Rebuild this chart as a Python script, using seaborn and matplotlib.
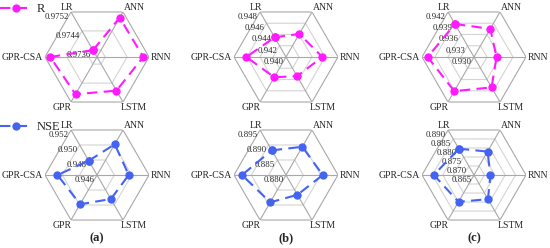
import numpy as np
import pandas as pd
import matplotlib
matplotlib.use('Agg')
import matplotlib.pyplot as plt
from matplotlib.transforms import offset_copy
import seaborn as sns

sns.set_style('white')
plt.rcParams['font.family'] = ['Liberation Serif', 'DejaVu Serif']

# axis order and angles (degrees)
models = ['LR', 'ANN', 'RNN', 'LSTM', 'GPR', 'GPR-CSA']
angles_deg = [120, 60, 0, 300, 240, 180]

# R values per panel
r_a = [0.97359, 0.97496, 0.97499, 0.97472, 0.97487, 0.97501]
r_b = [0.9435, 0.9441, 0.9456, 0.9434, 0.9436, 0.9461]
r_c = [0.9388, 0.9375, 0.9352, 0.9381, 0.9391, 0.9407]

# NSE values per panel
nse_a = [0.9479, 0.9501, 0.94966, 0.9492, 0.9499, 0.95056]
nse_b = [0.8882, 0.8894, 0.8906, 0.8866, 0.8891, 0.8927]
nse_c = [0.8796, 0.8780, 0.8729, 0.8784, 0.8799, 0.8843]

# radial ranges and tick labels
lim_r_a = (0.9733, 0.9752)
ticks_r_a = [0.9736, 0.9744, 0.9752]
lim_r_b = (0.940, 0.948)
ticks_r_b = [0.940, 0.942, 0.944, 0.946, 0.948]
lim_r_c = (0.930, 0.942)
ticks_r_c = [0.930, 0.933, 0.936, 0.939, 0.942]
lim_n_a = (0.946, 0.952)
ticks_n_a = [0.946, 0.948, 0.950, 0.952]
lim_n_b = (0.880, 0.895)
ticks_n_b = [0.880, 0.885, 0.890, 0.895]
lim_n_c = (0.865, 0.890)
ticks_n_c = [0.865, 0.870, 0.875, 0.880, 0.885, 0.890]

magenta = '#ff1aff'
blue = '#4563f2'

W, H = 550, 248
fig = plt.figure(figsize=(5.5, 2.48), dpi=100)

theta = np.deg2rad(angles_deg)
theta_closed = np.append(theta, theta[0])

# label placement relative to outer vertex: (ha, va, dx, dy) in px
label_pos = {
    'LR': ('right', 'bottom', 2, 0),
    'ANN': ('left', 'bottom', 1, 0),
    'RNN': ('left', 'center', 2, 0),
    'LSTM': ('left', 'top', -2, -1),
    'GPR': ('right', 'top', 1, -1),
    'GPR-CSA': ('right', 'center', -2, 0),
}


def radar(cx, cy, values, lim, ticks, fmt, color):
    R = 52
    ax = fig.add_axes([(cx - R) / W, (H - cy - R) / H, 2 * R / W, 2 * R / H],
                      projection='polar')
    ax.set_ylim(*lim)
    ax.grid(False)
    ax.spines['polar'].set_visible(False)
    ax.set_xticks([])
    ax.set_yticks([])
    # hexagon rings
    for t in ticks[:-1]:
        ax.plot(theta_closed, [t] * 7, color='#d4d4d4', lw=0.8, zorder=1)
    ax.plot(theta_closed, [lim[1]] * 7, color='#a8a8a8', lw=0.8, zorder=1)
    # spokes
    for th in theta:
        ax.plot([th, th], [lim[0], lim[1]], color='#a8a8a8', lw=0.8, zorder=1)
    # radial labels along LR spoke
    tr = offset_copy(ax.transData, fig=fig, x=-2, y=-1, units='dots')
    for t in ticks:
        ax.text(np.deg2rad(120), t, fmt.format(t), transform=tr,
                ha='right', va='top', fontsize=6.3, zorder=2)
    # axis names
    for name, th in zip(models, theta):
        ha, va, dx, dy = label_pos[name]
        trn = offset_copy(ax.transData, fig=fig, x=dx, y=dy, units='dots')
        ax.text(th, lim[1], name, transform=trn, ha=ha, va=va, fontsize=7)
    df = pd.DataFrame({'theta': theta_closed,
                       'value': np.append(values, values[0])})
    sns.lineplot(data=df, x='theta', y='value', ax=ax, sort=False,
                 estimator=None, color=color, lw=1.5, marker='o',
                 markersize=6, markeredgewidth=0, linestyle=(0, (5, 3)),
                 zorder=3)
    ax.set_xlabel('')
    ax.set_ylabel('')
    ax.set_ylim(*lim)
    return ax


cxs = [97, 286, 474]
cy_top, cy_bot = 57, 175

radar(cxs[0], cy_top, r_a, lim_r_a, ticks_r_a, '{:.4f}', magenta)
radar(cxs[1], cy_top, r_b, lim_r_b, ticks_r_b, '{:.3f}', magenta)
radar(cxs[2], cy_top, r_c, lim_r_c, ticks_r_c, '{:.3f}', magenta)
radar(cxs[0], cy_bot, nse_a, lim_n_a, ticks_n_a, '{:.3f}', blue)
radar(cxs[1], cy_bot, nse_b, lim_n_b, ticks_n_b, '{:.3f}', blue)
radar(cxs[2], cy_bot, nse_c, lim_n_c, ticks_n_c, '{:.3f}', blue)

# legends
h_r = plt.Line2D([], [], color=magenta, lw=1.5, linestyle=(0, (5, 3)),
                 marker='o', markersize=6, markeredgewidth=0)
h_n = plt.Line2D([], [], color=blue, lw=1.5, linestyle=(0, (5, 3)),
                 marker='o', markersize=6, markeredgewidth=0)
fig.legend([h_r], ['R'], loc='center left', bbox_to_anchor=(0.0, 1 - 9 / H),
           frameon=False, fontsize=9, handlelength=2.6, handletextpad=0.3,
           borderaxespad=0, borderpad=0)
fig.legend([h_n], ['NSE'], loc='center left', bbox_to_anchor=(0.0, 1 - 127 / H),
           frameon=False, fontsize=9, handlelength=2.6, handletextpad=0.3,
           borderaxespad=0, borderpad=0)

# panel letters
for cx, lab in zip(cxs, ['(a)', '(b)', '(c)']):
    fig.text(cx / W, 1 - 238 / H, lab, ha='center', va='center',
             fontsize=9, fontweight='bold')

fig.savefig('out.png', dpi=100)
